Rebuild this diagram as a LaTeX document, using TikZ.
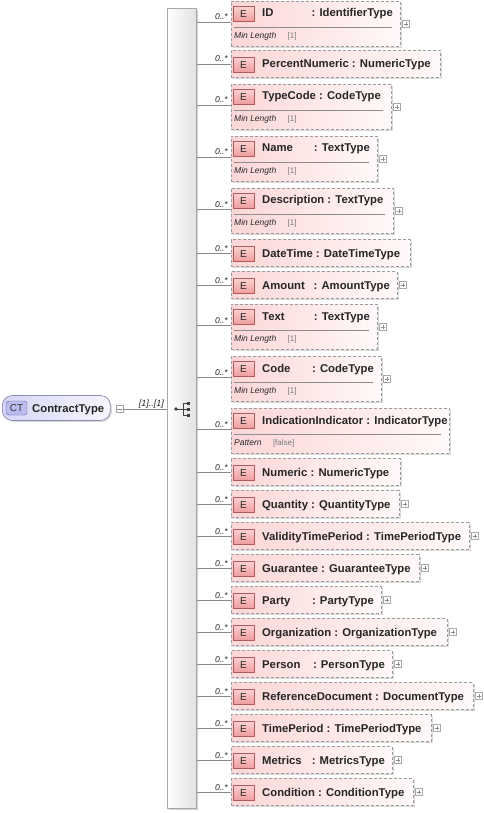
\documentclass[tikz,border=0pt]{standalone}
\usepackage{fontspec}
\setmainfont{Liberation Sans}
\usetikzlibrary{shadows,calc}
\definecolor{boxborder}{HTML}{9C9C9C}
\definecolor{pinkL}{HTML}{FCD6D6}
\definecolor{pinkR}{HTML}{FFF9F9}
\definecolor{eTop}{HTML}{FBD2D2}
\definecolor{eBot}{HTML}{EE9C9C}
\definecolor{eBorder}{HTML}{B45A5A}
\definecolor{ctL}{HTML}{D6D6F6}
\definecolor{ctR}{HTML}{F6F6FD}
\definecolor{ctBorder}{HTML}{8C8CB8}
\definecolor{ctIcon}{HTML}{BCBCF0}
\definecolor{ctIconB}{HTML}{5A5AA6}
\definecolor{barB}{HTML}{A8A8A8}
\definecolor{barR}{HTML}{E2E2E2}
\definecolor{conncol}{HTML}{8A8A8A}
\definecolor{facetv}{HTML}{7A7A7A}
\tikzset{
  elbox/.style={draw=boxborder, line width=0.8pt, dash pattern=on 3pt off 2pt,
    left color=pinkL, right color=pinkR, inner sep=0pt,
    drop shadow={shadow xshift=1.5pt, shadow yshift=-1.5pt, fill=black, opacity=0.15}},
  eicon/.style={draw=eBorder, line width=0.6pt, top color=eTop, bottom color=eBot,
    minimum width=21pt, minimum height=15pt, inner sep=0pt, font=\fontsize{10}{12}\selectfont, text=black!85},
  nm/.style={inner sep=0pt, font=\fontsize{11.3}{13}\selectfont\bfseries, text=black!85},
  mult/.style={inner sep=0pt, font=\fontsize{8.5}{10}\selectfont\itshape, text=black!85},
  facet/.style={inner sep=0pt, font=\fontsize{8.5}{10}\selectfont\itshape, text=black!85},
  facetval/.style={inner sep=0pt, font=\fontsize{8}{10}\selectfont, text=facetv},
  sepline/.style={draw=black!45, line width=0.6pt},
  conn/.style={draw=conncol, line width=0.7pt},
  pbox/.style={draw=barB, fill=white, minimum size=7pt, inner sep=0pt, line width=0.5pt},
  pline/.style={draw=black!45, line width=0.5pt},
}
\newcommand{\plusb}[3]{%
  \node[pbox] (#1-p) at (#2+6,#3) {};
  \draw[pline] ([xshift=-2.2pt]#1-p.center) -- ([xshift=2.2pt]#1-p.center)
               ([yshift=-2.2pt]#1-p.center) -- ([yshift=2.2pt]#1-p.center);}
% header text: id, baseline y, right x, name, type, split(1)/joined(0)
\newcommand{\hdr}[6]{%
  \ifnum#6=1\relax
    \node[nm, anchor=base west] (#1-n) at (262,#2) {#4};
    \node[nm, anchor=base east] (#1-t) at (#3-7,#2) {: #5};
  \else
    \node[nm, anchor=base west] (#1-n) at (262,#2) {#4 : #5};
  \fi}
% single-row element: id, center y, right x, name, type, plus, split
\newcommand{\elS}[7]{%
  \node[elbox, minimum width=#3-231, minimum height=27, anchor=west] (#1) at (231,#2) {};
  \node[eicon] (#1-e) at (243.5,#2+1) {E};
  \hdr{#1}{#2+4}{#3}{#4}{#5}{#7}
  \draw[conn] (bar.east |- #1.west) -- (#1.west);
  \node[mult, anchor=base east] (#1-m) at (228,#2-2) {0..*};
  \ifnum#6=1\relax \plusb{#1}{#3}{#2}\fi}
% two-row element: id, top y, right x, name, type, facet, value, plus, split
\newcommand{\elD}[9]{%
  \node[elbox, minimum width=#3-231, minimum height=45, anchor=north west] (#1) at (231,#2) {};
  \node[eicon] (#1-e) at (243.5,#2+13) {E};
  \hdr{#1}{#2+16}{#3}{#4}{#5}{#9}
  \draw[sepline] (234,#2+26) -- (#3-8,#2+26);
  \node[facet, anchor=base west] (#1-f) at (234,#2+37.5) {#6};
  \node[facetval, anchor=base west] (#1-v) at ([xshift=11pt]#1-f.base east) {#7};
  \coordinate (#1-c) at (231,#2+21);
  \draw[conn] (bar.east |- #1-c) -- (#1-c);
  \node[mult, anchor=base east] (#1-m) at (228,#2+19) {0..*};
  \ifnum#8=1\relax \plusb{#1}{#3}{#2+23}\fi}
\begin{document}
\begin{tikzpicture}[x=1pt,y=-1pt]
\useasboundingbox (0,0) rectangle (483,813);
% sequence bar
\node[draw=barB, line width=0.7pt, left color=white, right color=barR,
  minimum width=29, minimum height=800, anchor=north west, inner sep=0pt,
  drop shadow={shadow xshift=2pt, shadow yshift=-2pt, fill=black, opacity=0.18}] (bar) at (167,8) {};
% sequence symbol
\begin{scope}[black!75, line width=0.8pt]
  \fill (176,409) circle (1.8);
  \draw (176,409) -- (183,409) (183,403) -- (183,415)
        (183,403) -- (188,403) (183,409) -- (188,409) (183,415) -- (188,415);
  \fill (186.5,401.5) rectangle (190,404.5);
  \fill (186.5,407.5) rectangle (190,410.5);
  \fill (186.5,413.5) rectangle (190,416.5);
\end{scope}
% complex type node
\node[draw=ctBorder, line width=0.7pt, rounded corners=10pt, left color=ctL, right color=ctR,
  minimum width=108, minimum height=25, anchor=west, inner sep=0pt,
  drop shadow={shadow xshift=1.5pt, shadow yshift=-1.5pt, fill=black, opacity=0.15}] (ct) at (2,408) {};
\node[draw=ctIconB, fill=ctIcon, rounded corners=3pt, minimum width=21, minimum height=14,
  inner sep=0pt, font=\fontsize{10}{12}\selectfont, text=black!80] (ct-i) at (16.5,408) {CT};
\node[nm, anchor=base west] (ct-n) at (32,412) {ContractType};
\node[pbox] (ct-m) at (119.5,409) {};
\draw[pline] ([xshift=-2.2pt]ct-m.center) -- ([xshift=2.2pt]ct-m.center);
\draw[conn] (ct-m.east) -- (bar.west |- ct-m.east);
\node[mult, font=\fontsize{9}{11}\selectfont\itshape, anchor=base east] (ct-l) at (164,406) {[1]..[1]};
% elements
\elD{id}{1}{400}{ID}{IdentifierType}{Min Length}{[1]}{1}{1}
\elS{pn}{64}{440}{PercentNumeric}{NumericType}{0}{0}
\elD{tc}{84}{391}{TypeCode}{CodeType}{Min Length}{[1]}{1}{0}
\elD{na}{136}{377}{Name}{TextType}{Min Length}{[1]}{1}{1}
\elD{de}{188}{393}{Description}{TextType}{Min Length}{[1]}{1}{0}
\elS{dt}{253}{410}{DateTime}{DateTimeType}{0}{0}
\elS{am}{285}{397}{Amount}{AmountType}{1}{1}
\elD{tx}{304}{377}{Text}{TextType}{Min Length}{[1]}{1}{1}
\elD{cd}{356}{381}{Code}{CodeType}{Min Length}{[1]}{1}{1}
\elD{ii}{408}{449}{IndicationIndicator}{IndicatorType}{Pattern}{[false]}{0}{0}
\elS{nu}{472}{400}{Numeric}{NumericType}{0}{0}
\elS{qu}{504}{399}{Quantity}{QuantityType}{1}{0}
\elS{vt}{536}{469}{ValidityTimePeriod}{TimePeriodType}{1}{0}
\elS{gu}{568}{419}{Guarantee}{GuaranteeType}{1}{0}
\elS{pa}{600}{381}{Party}{PartyType}{1}{1}
\elS{or}{632}{447}{Organization}{OrganizationType}{1}{0}
\elS{pe}{664}{392}{Person}{PersonType}{1}{1}
\elS{rd}{696}{473}{ReferenceDocument}{DocumentType}{1}{0}
\elS{tp}{728}{431}{TimePeriod}{TimePeriodType}{1}{0}
\elS{me}{760}{392}{Metrics}{MetricsType}{1}{1}
\elS{co}{792}{413}{Condition}{ConditionType}{1}{0}
\end{tikzpicture}
\end{document}
